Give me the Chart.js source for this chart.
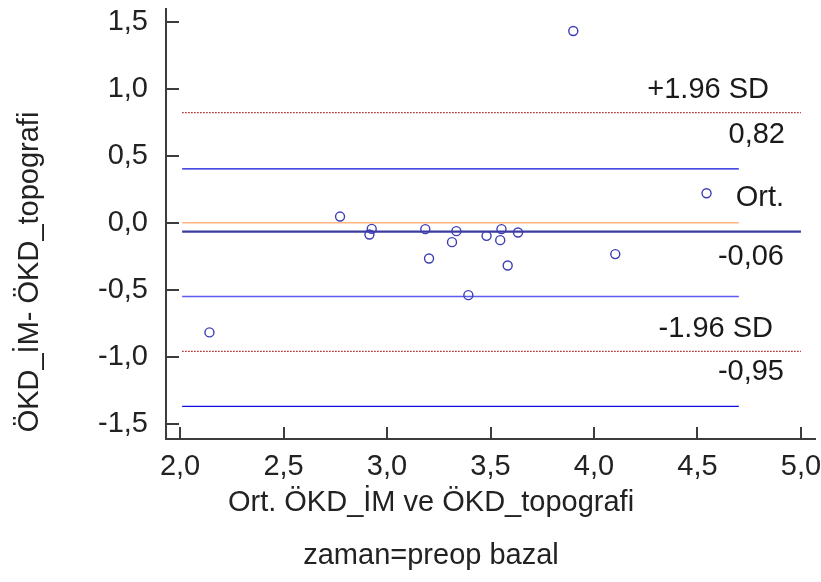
<!DOCTYPE html>
<html>
<head>
<meta charset="utf-8">
<script src="https://cdn.jsdelivr.net/npm/chart.js@4.4.1/dist/chart.umd.min.js"></script>
<style>
  body { margin: 0; background: #fff; }
  #wrap { width: 821px; height: 582px; }
</style>
</head>
<body>
<div id="wrap"><canvas id="chart" width="821" height="582"></canvas></div>
<script>
// ortalama (x) ve fark (y) değerleri
const meanVals = [3.900, 2.773, 2.926, 2.915, 3.185, 3.203, 3.335, 3.314, 3.481, 3.553, 3.547, 3.633, 3.583, 3.393, 4.103, 4.544, 2.142];
const diffVals = [1.431, 0.047, -0.045, -0.087, -0.047, -0.266, -0.062, -0.144, -0.097, -0.047, -0.129, -0.072, -0.318, -0.539, -0.233, 0.221, -0.817];

const xTicks = [2.0, 2.5, 3.0, 3.5, 4.0, 4.5, 5.0];
const yTicks = [-1.5, -1.0, -0.5, 0.0, 0.5, 1.0, 1.5];

// yatay çizgiler: +1.96 SD, güven aralığı, sıfır, ortalama, güven aralığı, -1.96 SD, güven aralığı
const lineLevels = [0.822, 0.402, 0.0, -0.065, -0.549, -0.959, -1.369];
const lineFrom   = [2.01, 2.01, 2.01, 2.01, 2.01, 2.01, 2.01];
const lineTo     = [5.0, 4.70, 4.70, 5.0, 4.70, 5.0, 4.70];

const noteTexts = ['+1.96 SD', '0,82', 'Ort.', '-0,06', '-1.96 SD', '-0,95'];
const noteLine  = [0, 0, 3, 3, 5, 5];

const xTitle = 'Ort. ÖKD_İM ve ÖKD_topografi';
const subTitle = 'zaman=preop bazal';
const yTitle = 'ÖKD_İM- ÖKD_topografi';

const FONT = '"Liberation Sans", Arial, sans-serif';
const AXIS = '#3c3c3c';

const lineStyles = [
  { color: '#b01c1c', width: 1.2, dash: [1.5, 1.5] },
  { color: '#1010dc', width: 1.3, dash: [] },
  { color: '#ffb482', width: 1.5, dash: [] },
  { color: '#3b3b9e', width: 2.2, dash: [] },
  { color: '#5c5cf2', width: 1.5, dash: [] },
  { color: '#b01c1c', width: 1.2, dash: [1.5, 1.5] },
  { color: '#1010dc', width: 1.3, dash: [] }
];

const fmt = v => v.toFixed(1).replace('.', ',');

const datasets = [{
  data: meanVals.map((x, i) => ({ x: x, y: diffVals[i] })),
  pointStyle: 'circle',
  pointRadius: 4.5,
  borderWidth: 1.4,
  borderColor: '#3d3db5',
  backgroundColor: 'rgba(0,0,0,0)',
  showLine: false
}];

lineLevels.forEach((lv, i) => {
  datasets.push({
    data: [{ x: lineFrom[i], y: lv }, { x: lineTo[i], y: lv }],
    showLine: true,
    pointRadius: 0,
    borderColor: lineStyles[i].color,
    borderWidth: lineStyles[i].width,
    borderDash: lineStyles[i].dash,
    fill: false
  });
});

// içe dönük tik çizgileri ve yazılar
const framePlugin = {
  id: 'frame',
  afterDraw(chart) {
    const { ctx, chartArea, scales } = chart;
    const xs = scales.x, ys = scales.y;
    ctx.save();
    ctx.strokeStyle = AXIS;
    ctx.lineWidth = 2;
    yTicks.forEach(v => {
      const py = Math.round(ys.getPixelForValue(v));
      ctx.beginPath();
      ctx.moveTo(chartArea.left, py);
      ctx.lineTo(chartArea.left + 13, py);
      ctx.stroke();
    });
    xTicks.forEach(v => {
      const px = Math.round(xs.getPixelForValue(v));
      ctx.beginPath();
      ctx.moveTo(px, chartArea.bottom);
      ctx.lineTo(px, chartArea.bottom - 12);
      ctx.stroke();
    });

    ctx.fillStyle = '#1a1a1a';
    ctx.font = '29px ' + FONT;
    ctx.textBaseline = 'alphabetic';
    ctx.textAlign = 'right';
    const rightEdge = [769, 785, 784, 784, 773, 784];
    const dy = [-24.7, 20.3, -35.7, 23.3, -25, 18.3];
    noteTexts.forEach((t, i) => {
      const py = ys.getPixelForValue(lineLevels[noteLine[i]]) + dy[i];
      ctx.fillText(t, rightEdge[i], py + 10.4);
    });

    ctx.fillStyle = '#222';
    ctx.textAlign = 'center';
    ctx.fillText(xTitle, 431, 510.5);
    ctx.fillText(subTitle, 431, 564);

    ctx.translate(38, 272);
    ctx.rotate(-Math.PI / 2);
    ctx.fillText(yTitle, 0, 0);
    ctx.restore();
  }
};

new Chart(document.getElementById('chart'), {
  type: 'scatter',
  data: { datasets: datasets },
  options: {
    responsive: false,
    animation: false,
    events: [],
    layout: { padding: { top: 9, right: 6, left: 0, bottom: 0 } },
    plugins: { legend: { display: false }, tooltip: { enabled: false } },
    scales: {
      x: {
        type: 'linear',
        min: 1.932,
        max: 5.068,
        afterBuildTicks: s => { s.ticks = xTicks.map(v => ({ value: v })); },
        afterFit: s => { s.height = 143; s.paddingLeft = 0; s.paddingRight = 0; },
        grid: { display: false, drawTicks: false },
        border: { color: AXIS, width: 2 },
        ticks: {
          font: { family: FONT, size: 29 },
          color: '#222',
          padding: 11,
          maxRotation: 0,
          autoSkip: false,
          callback: v => fmt(v)
        }
      },
      y: {
        type: 'linear',
        min: -1.612,
        max: 1.595,
        afterBuildTicks: s => { s.ticks = yTicks.map(v => ({ value: v })); },
        afterFit: s => { s.width = 166; s.paddingTop = 0; s.paddingBottom = 0; },
        grid: { display: false, drawTicks: false },
        border: { color: AXIS, width: 2 },
        ticks: {
          font: { family: FONT, size: 29 },
          color: '#222',
          padding: 18,
          autoSkip: false,
          callback: v => fmt(v)
        }
      }
    }
  },
  plugins: [framePlugin]
});
</script>
</body>
</html>
